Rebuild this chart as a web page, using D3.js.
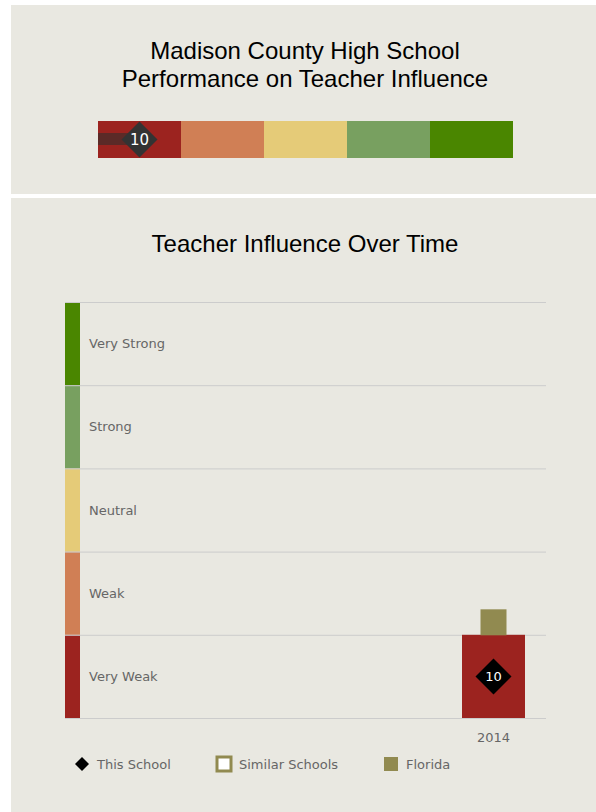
<!DOCTYPE html>
<html lang="en">
<head>
	<title>Teacher Influence</title>
	<script src="https://d3js.org/d3.v7.min.js" charset="utf-8"></script>
	<style>
		body { margin: 0; background: #fff; }
		text { font-family: "DejaVu Sans", Verdana, sans-serif; }
		.title { font-family: "Liberation Sans", Arial, sans-serif; font-size: 24px; fill: #000; }
	</style>
</head>
<body>
	<div id="chart"></div>
<script>
	// Data
	var categories = ["Very Weak", "Weak", "Neutral", "Strong", "Very Strong"];
	var categoryColors = ["#9c231f", "#d07f55", "#e5cb78", "#78a060", "#4a8600"];
	var thresholds = [0, 20, 40, 60, 80, 100];
	var years = ["2014"];
	var schoolValues = [10];
	var floridaValues = [23];
	var legendItems = ["This School", "Similar Schools", "Florida"];

	var w = 596, h = 812;
	var panelColor = "#e9e8e1";

	var svg = d3.select("#chart").append("svg")
		.attr("width", w)
		.attr("height", h);

	// panels
	svg.append("rect").attr("x", 11).attr("y", 5).attr("width", w - 11).attr("height", 189).attr("fill", panelColor);
	svg.append("rect").attr("x", 11).attr("y", 198).attr("width", w - 11).attr("height", h - 198).attr("fill", panelColor);

	// ---- top panel ----
	svg.append("text").attr("class", "title").attr("x", 305).attr("y", 59)
		.attr("text-anchor", "middle").text("Madison County High School");
	svg.append("text").attr("class", "title").attr("x", 305).attr("y", 87)
		.attr("text-anchor", "middle").text("Performance on Teacher Influence");

	var xTop = d3.scaleLinear().domain([0, 100]).range([98, 513]);

	svg.selectAll("rect.seg")
		.data(categories)
		.enter()
		.append("rect")
		.attr("class", "seg")
		.attr("x", function(d, i){ return xTop(thresholds[i]); })
		.attr("y", 121)
		.attr("width", function(d, i){ return xTop(thresholds[i + 1]) - xTop(thresholds[i]); })
		.attr("height", 37)
		.attr("fill", function(d, i){ return categoryColors[i]; });

	// school value bar + diamond
	svg.append("rect")
		.attr("x", xTop(0))
		.attr("y", 133)
		.attr("width", xTop(schoolValues[0]) - xTop(0))
		.attr("height", 12)
		.attr("fill", "#5c2a27");

	var topDiamond = svg.append("g")
		.attr("transform", "translate(" + xTop(schoolValues[0]) + ",139.5)");
	topDiamond.append("path")
		.attr("d", "M0,-18L18,0L0,18L-18,0Z")
		.attr("fill", "#333333");
	topDiamond.append("text")
		.attr("text-anchor", "middle")
		.attr("dy", "0.36em")
		.attr("font-size", "15px")
		.attr("fill", "#fff")
		.text(schoolValues[0]);

	// ---- bottom panel ----
	svg.append("text").attr("class", "title").attr("x", 305).attr("y", 252)
		.attr("text-anchor", "middle").text("Teacher Influence Over Time");

	var plotLeft = 65, plotRight = 546;
	var y = d3.scaleLinear().domain([0, 100]).range([718, 302]);
	var x = d3.scaleBand().domain(years).range([462, 525]).padding(0);

	// colour strips
	svg.selectAll("rect.strip")
		.data(categories)
		.enter()
		.append("rect")
		.attr("class", "strip")
		.attr("x", plotLeft)
		.attr("y", function(d, i){ return y(thresholds[i + 1]); })
		.attr("width", 15)
		.attr("height", function(d, i){ return y(thresholds[i]) - y(thresholds[i + 1]); })
		.attr("fill", function(d, i){ return categoryColors[i]; });

	// grid lines
	svg.selectAll("line.grid")
		.data(thresholds)
		.enter()
		.append("line")
		.attr("class", "grid")
		.attr("x1", plotLeft)
		.attr("x2", plotRight)
		.attr("y1", function(d){ return y(d) + 0.5; })
		.attr("y2", function(d){ return y(d) + 0.5; })
		.attr("stroke", "#cccccc")
		.attr("stroke-width", 1);

	// band labels
	svg.selectAll("text.band")
		.data(categories)
		.enter()
		.append("text")
		.attr("class", "band")
		.attr("x", 89)
		.attr("y", function(d, i){ return (y(thresholds[i]) + y(thresholds[i + 1])) / 2; })
		.attr("dy", "0.36em")
		.attr("font-size", "13px")
		.attr("fill", "#666666")
		.text(function(d){ return d; });

	// school bar: fills the band the value falls in
	function bandIndex(v){
		var k = 0;
		for (var i = 0; i < categories.length; i++) { if (v >= thresholds[i]) k = i; }
		return k;
	}

	svg.selectAll("rect.bar")
		.data(years)
		.enter()
		.append("rect")
		.attr("class", "bar")
		.attr("x", function(d){ return x(d); })
		.attr("y", function(d, i){ return y(thresholds[bandIndex(schoolValues[i]) + 1]); })
		.attr("width", x.bandwidth())
		.attr("height", function(d, i){
			var k = bandIndex(schoolValues[i]);
			return y(thresholds[k]) - y(thresholds[k + 1]);
		})
		.attr("fill", function(d, i){ return categoryColors[bandIndex(schoolValues[i])]; });

	// florida marker
	svg.selectAll("rect.fl")
		.data(years)
		.enter()
		.append("rect")
		.attr("class", "fl")
		.attr("x", function(d){ return x(d) + x.bandwidth() / 2 - 13; })
		.attr("y", function(d, i){ return y(floridaValues[i]) - 13; })
		.attr("width", 26)
		.attr("height", 26)
		.attr("fill", "#918a50");

	// school diamond
	var dia = svg.selectAll("g.dia")
		.data(years)
		.enter()
		.append("g")
		.attr("class", "dia")
		.attr("transform", function(d, i){
			return "translate(" + (x(d) + x.bandwidth() / 2) + "," + y(schoolValues[i]) + ")";
		});
	dia.append("path")
		.attr("d", "M0,-18L18,0L0,18L-18,0Z")
		.attr("fill", "#000");
	dia.append("text")
		.attr("text-anchor", "middle")
		.attr("dy", "0.36em")
		.attr("font-size", "13px")
		.attr("fill", "#fff")
		.text(function(d, i){ return schoolValues[i]; });

	// x axis labels
	svg.selectAll("text.year")
		.data(years)
		.enter()
		.append("text")
		.attr("class", "year")
		.attr("x", function(d){ return x(d) + x.bandwidth() / 2; })
		.attr("y", 742)
		.attr("text-anchor", "middle")
		.attr("font-size", "13px")
		.attr("fill", "#666666")
		.text(function(d){ return d; });

	// legend
	var legendX = [82, 224, 391];
	var legend = svg.selectAll("g.legend")
		.data(legendItems)
		.enter()
		.append("g")
		.attr("class", "legend")
		.attr("transform", function(d, i){ return "translate(" + legendX[i] + ",764)"; });

	legend.each(function(d, i){
		var g = d3.select(this);
		if (i === 0) {
			g.append("path").attr("d", "M0,-7L7,0L0,7L-7,0Z").attr("fill", "#000");
		} else if (i === 1) {
			g.append("rect").attr("x", -7).attr("y", -7).attr("width", 14).attr("height", 14)
				.attr("fill", "#fff").attr("stroke", "#918a50").attr("stroke-width", 3);
		} else {
			g.append("rect").attr("x", -7).attr("y", -7).attr("width", 14).attr("height", 14)
				.attr("fill", "#918a50");
		}
		g.append("text")
			.attr("x", 15)
			.attr("dy", "0.36em")
			.attr("font-size", "13px")
			.attr("fill", "#666666")
			.text(d);
	});
</script>
</body>
</html>
